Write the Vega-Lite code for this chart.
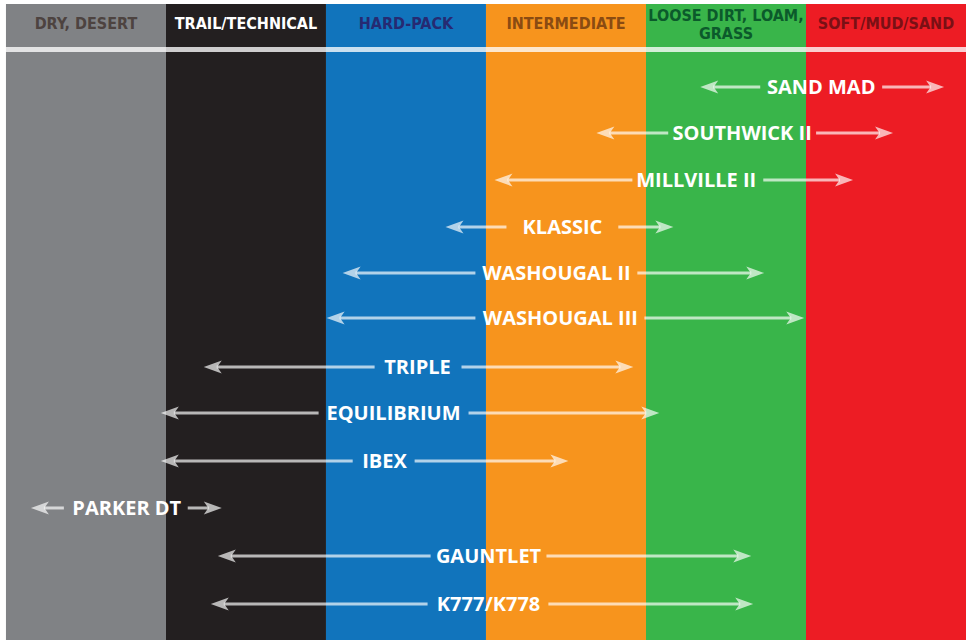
{
  "$schema": "https://vega.github.io/schema/vega-lite/v6.json",
  "width": 961,
  "height": 636,
  "autosize": {"type": "none"},
  "padding": {"left": 5, "top": 4, "right": 3, "bottom": 0},
  "background": "#ffffff",
  "config": {"view": {"stroke": null}},
  "datasets": {
    "terrain": [
      {"terrain": "DRY, DESERT", "start": 0, "end": 1, "mid": 0.5},
      {"terrain": "TRAIL/TECHNICAL", "start": 1, "end": 2, "mid": 1.5},
      {"terrain": "HARD-PACK", "start": 2, "end": 3, "mid": 2.5},
      {"terrain": "INTERMEDIATE", "start": 3, "end": 4, "mid": 3.5},
      {"terrain": "LOOSE DIRT, LOAM,\nGRASS", "start": 4, "end": 5, "mid": 4.5},
      {"terrain": "SOFT/MUD/SAND", "start": 5, "end": 6, "mid": 5.5}
    ],
    "tires": [
      {"tire": "SAND MAD", "row": 1.0, "a": 4.339, "b": 4.714, "t": 5.095, "c": 5.476, "d": 5.863},
      {"tire": "SOUTHWICK II", "row": 1.979, "a": 3.69, "b": 4.139, "t": 4.601, "c": 5.063, "d": 5.544},
      {"tire": "MILLVILLE II", "row": 2.979, "a": 3.053, "b": 3.915, "t": 4.314, "c": 4.733, "d": 5.294},
      {"tire": "KLASSIC", "row": 3.979, "a": 2.747, "b": 3.128, "t": 3.478, "c": 3.827, "d": 4.171},
      {"tire": "WASHOUGAL II", "row": 4.957, "a": 2.104, "b": 2.934, "t": 3.44, "c": 3.946, "d": 4.739},
      {"tire": "WASHOUGAL III", "row": 5.915, "a": 2.004, "b": 2.934, "t": 3.465, "c": 3.99, "d": 4.989},
      {"tire": "TRIPLE", "row": 6.957, "a": 1.236, "b": 2.304, "t": 2.572, "c": 2.847, "d": 3.921},
      {"tire": "EQUILIBRIUM", "row": 7.936, "a": 0.968, "b": 1.954, "t": 2.422, "c": 2.891, "d": 4.083},
      {"tire": "IBEX", "row": 8.957, "a": 0.968, "b": 2.167, "t": 2.366, "c": 2.554, "d": 3.515},
      {"tire": "PARKER DT", "row": 9.957, "a": 0.156, "b": 0.362, "t": 0.755, "c": 1.136, "d": 1.349},
      {"tire": "GAUNTLET", "row": 10.979, "a": 1.324, "b": 2.654, "t": 3.016, "c": 3.378, "d": 4.658},
      {"tire": "K777/K778", "row": 12.0, "a": 1.28, "b": 2.635, "t": 3.016, "c": 3.39, "d": 4.67}
    ]
  },
  "resolve": {"scale": {"color": "independent", "fill": "independent"}},
  "layer": [
    {
      "data": {"name": "terrain"},
      "mark": {"type": "rect", "strokeWidth": 0},
      "encoding": {
        "x": {"field": "start", "type": "quantitative", "scale": {"domain": [-0.006, 6], "nice": false, "zero": false}, "axis": null},
        "x2": {"field": "end"},
        "fill": {
          "field": "terrain", "type": "nominal", "legend": null,
          "scale": {
            "domain": ["DRY, DESERT", "TRAIL/TECHNICAL", "HARD-PACK", "INTERMEDIATE", "LOOSE DIRT, LOAM,\nGRASS", "SOFT/MUD/SAND"],
            "range": ["#808285", "#231f20", "#1174bc", "#f7941d", "#39b54a", "#ed1c24"]
          }
        }
      }
    },
    {
      "data": {"name": "terrain"},
      "transform": [{"filter": "indexof(datum.terrain, '\\n') < 0"}],
      "mark": {"type": "text", "font": "DejaVu Sans Condensed, sans-serif", "fontWeight": "bold", "fontSize": 16, "baseline": "middle", "align": "center", "dy": 1},
      "encoding": {
        "x": {"field": "mid", "type": "quantitative"},
        "y": {"datum": -0.362, "type": "quantitative", "scale": {"domain": [-0.766, 12.766], "nice": false, "zero": false, "reverse": true}, "axis": null},
        "text": {"field": "terrain", "type": "nominal"},
        "color": {
          "field": "terrain", "type": "nominal", "legend": null,
          "scale": {
            "domain": ["DRY, DESERT", "TRAIL/TECHNICAL", "HARD-PACK", "INTERMEDIATE", "LOOSE DIRT, LOAM,\nGRASS", "SOFT/MUD/SAND"],
            "range": ["#4d4340", "#ffffff", "#262a72", "#8a4b12", "#0b5a2b", "#7a1015"]
          }
        }
      }
    },
    {
      "data": {"name": "terrain"},
      "transform": [{"filter": "indexof(datum.terrain, '\\n') >= 0"}],
      "mark": {"type": "text", "font": "DejaVu Sans Condensed, sans-serif", "fontWeight": "bold", "fontSize": 16, "lineBreak": "\n", "lineHeight": 18, "baseline": "middle", "align": "center", "dy": -7, "color": "#0b5a2b"},
      "encoding": {
        "x": {"field": "mid", "type": "quantitative"},
        "y": {"datum": -0.362, "type": "quantitative"},
        "text": {"field": "terrain", "type": "nominal"}
      }
    },
    {
      "data": {"values": [{}]},
      "mark": {"type": "rule", "color": "#ffffff", "opacity": 0.78, "strokeWidth": 5},
      "encoding": {
        "y": {"datum": 0.202, "type": "quantitative"}
      }
    },
    {
      "data": {"name": "tires"},
      "mark": {"type": "rule", "color": "#ffffff", "opacity": 0.68, "strokeWidth": 3, "xOffset": 13},
      "encoding": {
        "x": {"field": "a", "type": "quantitative"},
        "x2": {"field": "b"},
        "y": {"field": "row", "type": "quantitative"}
      }
    },
    {
      "data": {"name": "tires"},
      "mark": {"type": "rule", "color": "#ffffff", "opacity": 0.68, "strokeWidth": 3, "x2Offset": -13},
      "encoding": {
        "x": {"field": "c", "type": "quantitative"},
        "x2": {"field": "d"},
        "y": {"field": "row", "type": "quantitative"}
      }
    },
    {
      "data": {"name": "tires"},
      "mark": {"type": "point", "filled": true, "color": "#ffffff", "opacity": 0.68, "strokeWidth": 0, "size": 324, "shape": "M0,0 L2,-0.72 L1.5,0 L2,0.72 Z"},
      "encoding": {
        "x": {"field": "a", "type": "quantitative"},
        "y": {"field": "row", "type": "quantitative"}
      }
    },
    {
      "data": {"name": "tires"},
      "mark": {"type": "point", "filled": true, "color": "#ffffff", "opacity": 0.68, "strokeWidth": 0, "size": 324, "shape": "M0,0 L-2,-0.72 L-1.5,0 L-2,0.72 Z"},
      "encoding": {
        "x": {"field": "d", "type": "quantitative"},
        "y": {"field": "row", "type": "quantitative"}
      }
    },
    {
      "data": {"name": "tires"},
      "mark": {"type": "text", "font": "Open Sans", "fontWeight": "bold", "fontSize": 20, "color": "#ffffff", "align": "center", "baseline": "middle", "dy": 1},
      "encoding": {
        "x": {"field": "t", "type": "quantitative"},
        "y": {"field": "row", "type": "quantitative"},
        "text": {"field": "tire", "type": "nominal"}
      }
    }
  ]
}
